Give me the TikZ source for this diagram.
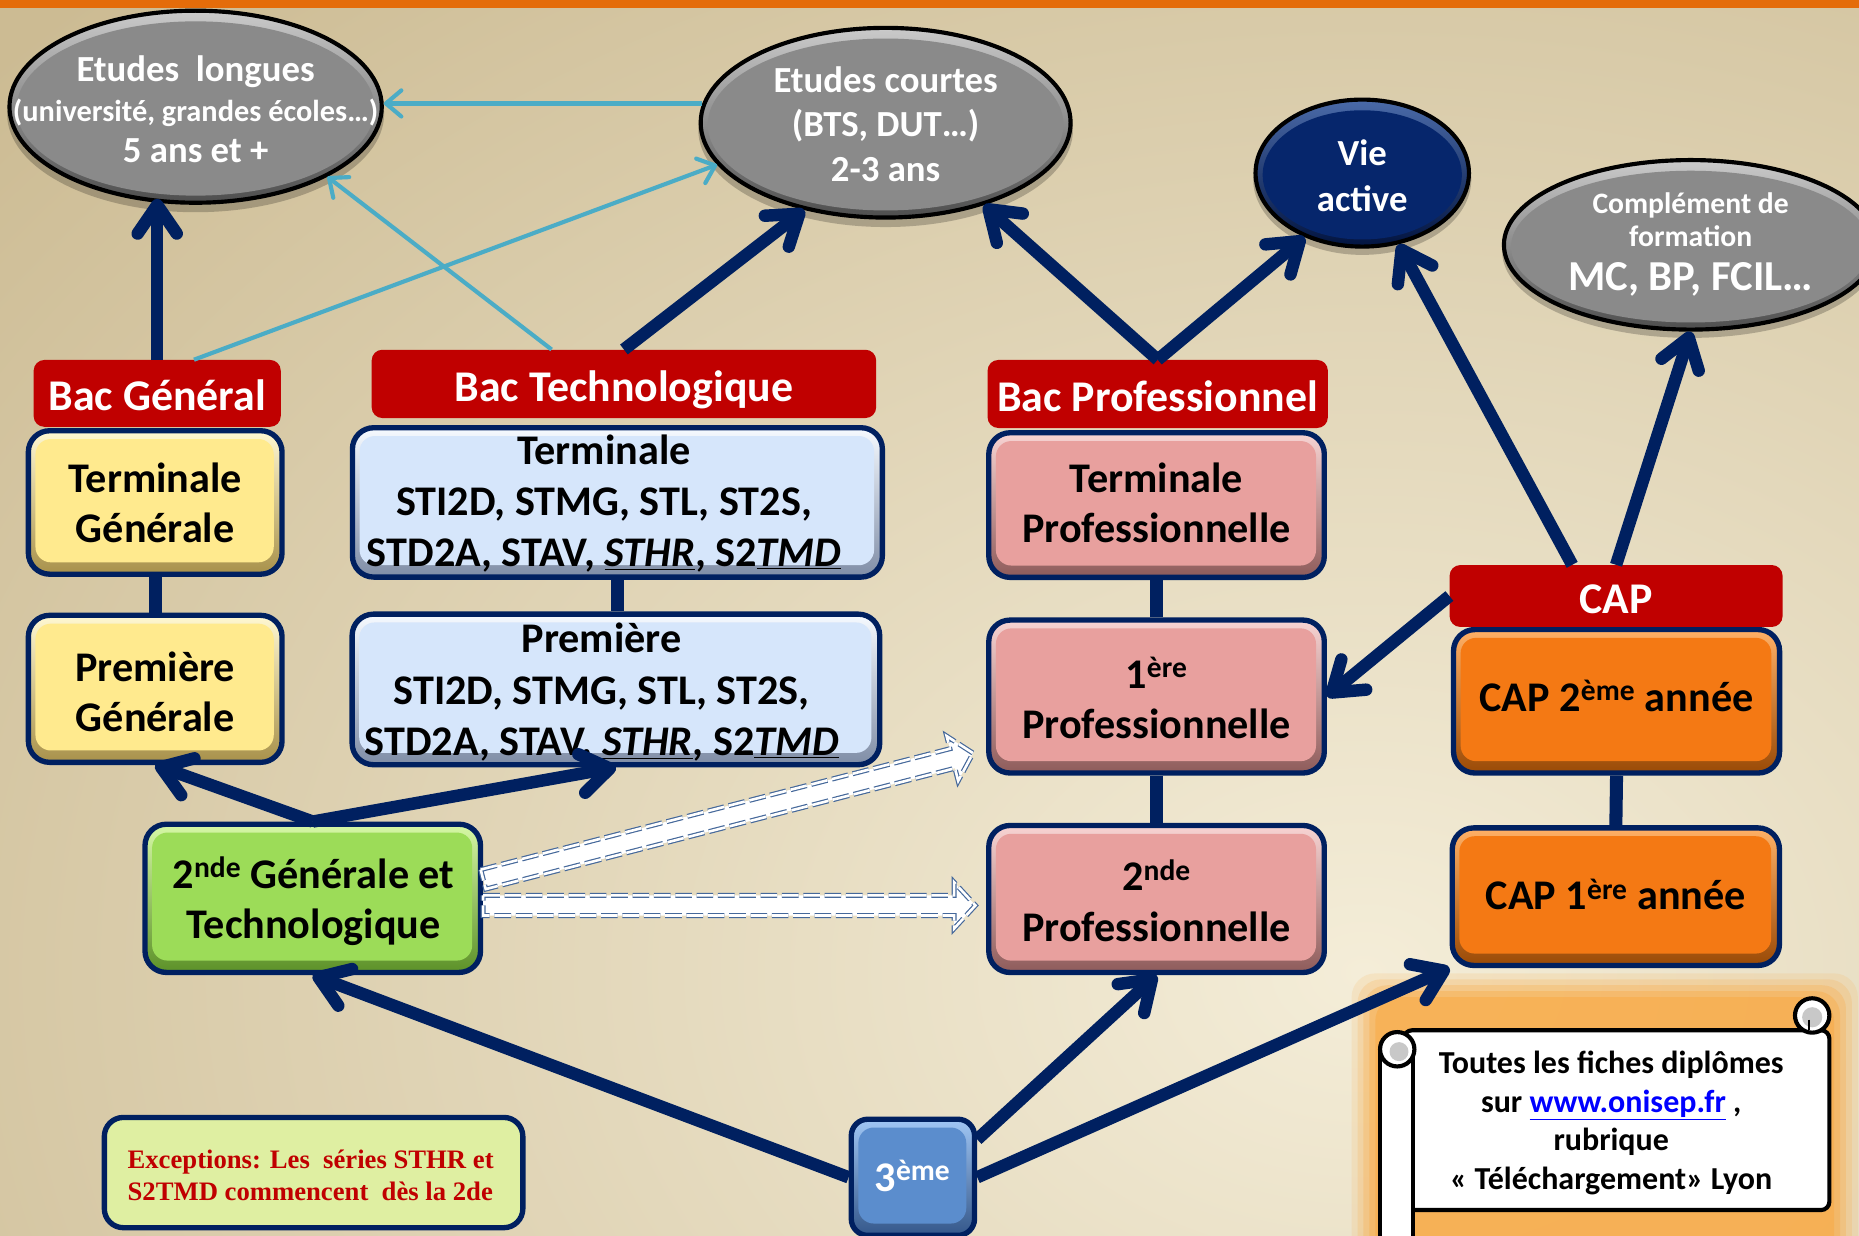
\documentclass[tikz,border=0pt]{standalone}
\usepackage{fontspec}
\setmainfont{Carlito}
\newfontfamily\serifbf{Liberation Serif}
\usetikzlibrary{arrows.meta,calc,shapes.geometric}

\definecolor{navy}{HTML}{002060}
\definecolor{redlab}{HTML}{C00000}
\definecolor{cyanline}{HTML}{4BACC6}
\definecolor{topbar}{HTML}{E46C0A}
\definecolor{bglight}{HTML}{F4EDD8}
\definecolor{bgdark}{HTML}{CCBB93}
\definecolor{ybase}{HTML}{FFEA8E}\definecolor{ylight}{HTML}{FFF8D2}\definecolor{ydark}{HTML}{A8914A}
\definecolor{bbase}{HTML}{D6E6FB}\definecolor{blight}{HTML}{F6FAFF}\definecolor{bdark}{HTML}{7F8DA6}
\definecolor{pbase}{HTML}{E8A09E}\definecolor{plight}{HTML}{F8D4D3}\definecolor{pdark}{HTML}{8E5B5A}
\definecolor{obase}{HTML}{F47914}\definecolor{olight}{HTML}{FFB066}\definecolor{odark}{HTML}{9A4A06}
\definecolor{gbase}{HTML}{9CDC58}\definecolor{glight}{HTML}{D6F8A6}\definecolor{gdark}{HTML}{5C9128}
\definecolor{tbase}{HTML}{5B8DCD}\definecolor{tlight}{HTML}{A0C6F4}\definecolor{tdark}{HTML}{34578A}
\definecolor{ellbase}{HTML}{8A8A8A}\definecolor{elllight}{HTML}{CACACA}\definecolor{elldark}{HTML}{4E4E4E}
\definecolor{vabase}{HTML}{06266C}\definecolor{valight}{HTML}{4A6AA8}\definecolor{vadark}{HTML}{021440}
\definecolor{exfill}{HTML}{DFEFA2}
\definecolor{dashblue}{HTML}{45689A}
\definecolor{glowc}{HTML}{F9A943}
\definecolor{linkblue}{HTML}{0000FF}
\definecolor{curlgray}{HTML}{C8C8C8}

\newcommand\boxfont{\bfseries\fontsize{35.6}{42.5}\selectfont}
\newcommand\labfont{\bfseries\fontsize{37}{40}\selectfont}
\newcommand\ellfont{\bfseries\fontsize{31}{37.5}\selectfont}

\tikzset{
  bevel/.style n args={3}{rectangle, rounded corners=18pt, draw=navy, line width=4.5pt,
    top color=#2, bottom color=#3,
    path picture={\fill[#1, rounded corners=13pt]
      ([shift={(6pt,-7pt)}]path picture bounding box.north west) rectangle
      ([shift={(-7pt,10pt)}]path picture bounding box.south east);},
    inner sep=0pt},
  ellnode/.style n args={5}{ellipse, minimum width=#4, minimum height=#5, inner sep=0pt,
    draw=black, line width=3.5pt, top color=#2, bottom color=#3,
    path picture={\fill[#1] ([yshift=-1.5pt]path picture bounding box.center)
      ellipse [x radius=0.5*#4-6pt, y radius=0.5*#5-7.5pt];}},
  boxtxt/.style={align=center, inner sep=0pt, font=\boxfont, text=black},
  elltxt/.style={align=center, inner sep=0pt, font=\ellfont, text=white},
  lab/.style={fill=redlab, rounded corners=9pt, inner sep=0pt, text=white, font=\labfont,
    text height=29pt, text depth=0pt},
  navarr/.style={draw=navy, line width=10.5pt,
    -{Straight Barb[length=24pt,width=33pt,line width=10.5pt,round]}},
  navbar/.style={draw=navy, line width=11pt},
  cyarr/.style={draw=cyanline, line width=3.5pt,
    -{Straight Barb[length=13pt,width=22pt,line width=3.5pt,round]}},
  blockarr/.style={draw=dashblue, line width=1pt, double=white, double distance=2.2pt,
    dash pattern=on 14pt off 4pt, fill=white},
  scrl/.style={draw=black, line width=3.5pt, fill=white},
}

\begin{document}
\begin{tikzpicture}[x=1pt,y=-1pt]
\useasboundingbox (0,0) rectangle (1568,1041.7);
\clip (0,0) rectangle (1568,1041.7);

% background
\fill[bgdark] (0,0) rectangle (1568,1041.7);
\shade[inner color=bglight, outer color=bgdark] (-400,-330) rectangle (2700,1970);
\fill[topbar] (0,0) rectangle (1568,7);

% glow behind the scroll
\foreach \m/\o in {24/0.14,19/0.2,14/0.28,9/0.38,4/0.5}
  \fill[glowc, opacity=\o, rounded corners=20pt] (1164-\m,845-\m) rectangle (1543+\m,1060+\m);

% ellipse shadows
\fill[black, opacity=0.22] (165,96) ellipse [x radius=159pt, y radius=83pt];
\fill[black, opacity=0.22] (747,109.5) ellipse [x radius=158pt, y radius=82pt];
\fill[black, opacity=0.22] (1149,151) ellipse [x radius=92pt, y radius=64pt];
\fill[black, opacity=0.22] (1426,212) ellipse [x radius=159pt, y radius=73pt];

% ellipses
\node[ellnode={ellbase}{elllight}{elldark}{314pt}{162pt}] (el) at (165,90) {};
\node[ellnode={ellbase}{elllight}{elldark}{312pt}{160pt}] (ec) at (747,103.5) {};
\node[ellnode={vabase}{valight}{vadark}{180pt}{124pt}] (va) at (1149,146) {};
\node[ellnode={ellbase}{elllight}{elldark}{315pt}{143pt}] (cf) at (1426,206.5) {};

\node[elltxt, font=\bfseries\fontsize{31}{34}\selectfont] (elt) at (165,92)
  {Etudes~~longues\\{\fontsize{25.6}{30}\selectfont (université, grandes écoles…)}\\5 ans et +};
\node[elltxt] (ect) at (747,104.5) {Etudes courtes\\(BTS, DUT…)\\2-3 ans};
\node[elltxt, font=\bfseries\fontsize{31}{38.5}\selectfont] (vat) at (1149,148) {Vie\\active};
\node[elltxt, font=\bfseries\fontsize{25}{28}\selectfont] (cft) at (1426,206)
  {Complément de\\formation\\[9pt]{\fontsize{36}{38}\selectfont MC, BP, FCIL…}};

% boxes
\node[bevel={ybase}{ylight}{ydark}, minimum width=214pt, minimum height=121pt] (tg) at (130.9,423.8) {};
\node[bevel={ybase}{ylight}{ydark}, minimum width=214pt, minimum height=124pt] (pg) at (130.9,581) {};
\node[bevel={bbase}{blight}{bdark}, minimum width=447pt, minimum height=126pt] (tt) at (520.75,423.75) {};
\node[bevel={bbase}{blight}{bdark}, minimum width=445pt, minimum height=127pt] (pt) at (519.5,581.5) {};
\node[bevel={pbase}{plight}{pdark}, minimum width=283pt, minimum height=122pt] (tp) at (975.5,426) {};
\node[bevel={pbase}{plight}{pdark}, minimum width=283pt, minimum height=129pt] (p1) at (975.5,587.5) {};
\node[bevel={pbase}{plight}{pdark}, minimum width=283pt, minimum height=124pt] (p2) at (975.5,758.25) {};
\node[bevel={obase}{olight}{odark}, minimum width=275pt, minimum height=121pt] (c2) at (1363.5,591.5) {};
\node[bevel={obase}{olight}{odark}, minimum width=276pt, minimum height=116pt] (c1) at (1362.9,756.3) {};
\node[bevel={gbase}{glight}{gdark}, minimum width=283pt, minimum height=125pt] (gt) at (263.8,757.7) {};
\node[bevel={tbase}{tlight}{tdark}, minimum width=104pt, minimum height=98pt, rounded corners=14pt] (t3) at (770,993) {};

% box texts
\node[boxtxt] (tgt) at (130.9,424) {Terminale\\Générale};
\node[boxtxt] (pgt) at (130.9,583.5) {Première\\Générale};
\node[boxtxt, font=\bfseries\fontsize{35.6}{43}\selectfont] (ttt) at (509.5,425)
  {Terminale\\STI2D, STMG, STL, ST2S,\\STD2A, STAV, \underline{\textit{STHR}}, S2\underline{\textit{TMD}}};
\node[boxtxt, font=\bfseries\fontsize{35.6}{43.5}\selectfont] (ptt) at (507.5,584)
  {Première\\STI2D, STMG, STL, ST2S,\\STD2A, STAV, \underline{\textit{STHR}}, S2\underline{\textit{TMD}}};
\node[boxtxt] (tpt) at (975.5,424) {Terminale\\Professionnelle};
\node[boxtxt] (p1t) at (975.5,589) {1\textsuperscript{ère}\\Professionnelle};
\node[boxtxt] (p2t) at (975.5,759.5) {2\textsuperscript{nde}\\Professionnelle};
\node[boxtxt, anchor=base] (c2t) at (1363.5,600) {CAP 2\textsuperscript{ème} année};
\node[boxtxt, anchor=base] (c1t) at (1362.9,767.5) {CAP 1\textsuperscript{ère} année};
\node[boxtxt] (gtt) at (264.5,760) {2\textsuperscript{nde} Générale et\\Technologique};
\node[boxtxt, anchor=base, text=white] (t3t) at (769.7,1005) {3\textsuperscript{ème}};

% vertical links
\draw[navbar] (tg.south) -- (pg.north);
\draw[navbar] (tt.south) -- (tt.south |- pt.north);
\draw[navbar] (tp.south) -- (p1.north);
\draw[navbar] (p1.south) -- (p2.north);
\draw[navbar] (c2.south) -- (c1.north);

% red labels
\node[lab, minimum width=208.4pt, minimum height=56.4pt] (bg) at (132.6,331.8) {Bac Général};
\node[lab, minimum width=425.5pt, minimum height=57.6pt] (bt) at (526.25,323.8) {Bac Technologique};
\node[lab, minimum width=287pt, minimum height=57.4pt] (bp) at (976.5,332.3) {Bac Professionnel};
\node[lab, minimum width=280.8pt, minimum height=52.2pt] (cap) at (1363.1,502.7) {CAP};

% cyan arrows
\draw[cyarr] (ec.174) -- (ec.174 -| el.east);
\draw[cyarr] ([xshift=31pt]bg.north) -- (ec.194);
\draw[cyarr] ([xshift=-61pt]bt.north) -- (el.332);

% navy arrows
\draw[navarr] (bg.north) -- ($(bg.north |- el.south)+(0,-5)$);
\draw[navarr] (bt.north) -- (ec.227);
\draw[navarr] (bp.north) -- (ec.320);
\draw[navarr] (bp.north) -- (va.228);
\draw[navarr] ([xshift=-37pt]cap.north) -- (va.297);
\draw[navarr] (cap.north) -- (cf.south);
\draw[navarr] (cap.west) -- (p1.east);
\draw[navarr] (gt.north) -- (pg.south);
\draw[navarr] (gt.north) -- (pt.south);
\draw[navarr] (t3.west) -- (gt.south);
\draw[navarr] ([yshift=32pt]t3.east) -- (p2.south);
\draw[navarr] (t3.east) -- (c1.south west);

% dashed block arrows
\coordinate (ba1s) at ([yshift=-6pt]gt.east);
\coordinate (ba1e) at ($(p2.west |- ba1s)+(-9,0)$);
\coordinate (h1) at ($(ba1e)!18pt!(ba1s)$);
\draw[blockarr] ($(ba1s)!8.5pt!90:(ba1e)$) -- ($(h1)!8.5pt!90:(ba1e)$) -- ($(h1)!19.5pt!90:(ba1e)$)
  -- (ba1e) -- ($(h1)!19.5pt!-90:(ba1e)$) -- ($(h1)!8.5pt!-90:(ba1e)$) -- ($(ba1s)!8.5pt!-90:(ba1e)$) -- cycle;
\coordinate (ba2s) at ([yshift=16pt]gt.east);
\coordinate (ba2e) at ([xshift=-11pt,yshift=19pt]p1.south west);
\coordinate (h2) at ($(ba2e)!18pt!(ba2s)$);
\draw[blockarr] ($(ba2s)!8.5pt!90:(ba2e)$) -- ($(h2)!8.5pt!90:(ba2e)$) -- ($(h2)!19.5pt!90:(ba2e)$)
  -- (ba2e) -- ($(h2)!19.5pt!-90:(ba2e)$) -- ($(h2)!8.5pt!-90:(ba2e)$) -- ($(ba2s)!8.5pt!-90:(ba2e)$) -- cycle;

% exceptions
\node[draw=navy, line width=4.5pt, rounded corners=16pt, fill=exfill, minimum width=353pt,
  minimum height=93pt, inner sep=0pt] (ex) at (264.5,989) {};
\node[font=\serifbf\bfseries\fontsize{22.5}{27}\selectfont, text=redlab, align=left, inner sep=0pt]
  (ext) at (262,991) {Exceptions: Les~~séries STHR et\\S2TMD commencent~~dès la 2de};

% scroll
\draw[scrl, rounded corners=7pt] (1184,869) rectangle (1543,1020.6);
\draw[scrl] (1528.5,856.5) circle [radius=14.5pt];
\fill[curlgray] (1528.5,858) circle [radius=8.5pt];
\draw[black, line width=2pt] (1526,860) -- (1526,869);
\draw[scrl] (1164,886) rectangle (1192,1050);
\draw[scrl] (1178.5,885) circle [radius=14.5pt];
\fill[curlgray] (1180,887) circle [radius=8pt];
\node[font=\bfseries\fontsize{27}{32.5}\selectfont, align=center, inner sep=0pt] (sct) at (1359,947)
  {Toutes les fiches diplômes\\sur \textcolor{linkblue}{\underline{www.onisep.fr}} ,\\rubrique\\« Téléchargement» Lyon};
\end{tikzpicture}
\end{document}
